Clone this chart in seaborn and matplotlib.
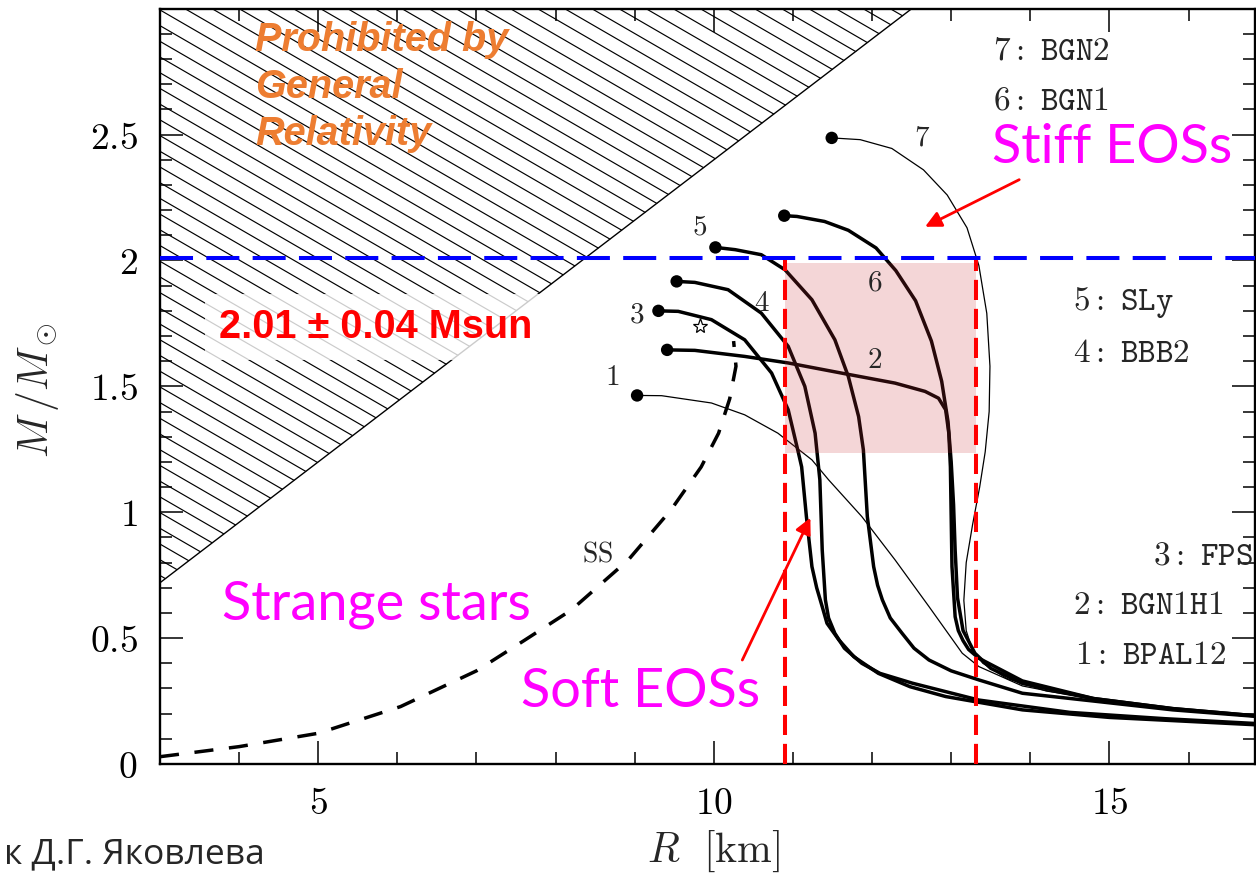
import numpy as np, pandas as pd
import matplotlib; matplotlib.use('Agg')
import matplotlib.pyplot as plt
import seaborn as sns
from matplotlib.patches import Polygon, Rectangle
from matplotlib.collections import LineCollection
from matplotlib.ticker import MultipleLocator, FuncFormatter

sns.set_theme(style='ticks')
plt.rcParams['font.family'] = ['DejaVu Sans']
plt.rcParams['mathtext.fontset'] = 'cm'

# --- M(R) curves (R in km, M in Msun) ---
R1 = [9.03, 9.34, 9.97, 10.39, 10.81, 11.24, 11.45, 11.87, 12.29, 12.72, 13.14, 13.35, 13.9, 14.8, 15.8, 16.9]
M1 = [1.464, 1.463, 1.434, 1.387, 1.314, 1.208, 1.129, 0.983, 0.811, 0.625, 0.44, 0.387, 0.31, 0.255, 0.215, 0.19]
R2 = [9.41, 9.76, 10.39, 10.94, 11.66, 12.29, 12.67, 12.84, 12.93, 12.97, 12.99, 13.01, 13.05, 13.09, 13.15, 13.22, 13.35, 13.9, 14.8, 15.8, 16.9]
M2 = [1.645, 1.643, 1.619, 1.593, 1.55, 1.513, 1.48, 1.453, 1.407, 1.314, 1.18, 0.784, 0.585, 0.53, 0.49, 0.455, 0.42, 0.33, 0.26, 0.22, 0.19]
R3 = [9.30, 9.55, 9.97, 10.39, 10.73, 10.94, 11.07, 11.11, 11.17, 11.24, 11.30, 11.37, 11.43, 11.58, 11.77, 12.08, 12.48, 12.93, 13.9, 15.0, 16.9]
M3 = [1.80, 1.798, 1.765, 1.685, 1.553, 1.407, 1.235, 1.18, 0.983, 0.784, 0.70, 0.625, 0.559, 0.493, 0.426, 0.36, 0.307, 0.268, 0.215, 0.185, 0.155]
R4 = [9.53, 9.76, 10.18, 10.6, 10.94, 11.15, 11.28, 11.34, 11.37, 11.41, 11.45, 11.53, 11.65, 11.87, 12.1, 12.51, 13.35, 14.5, 15.7, 16.9]
M4 = [1.917, 1.913, 1.884, 1.791, 1.659, 1.5, 1.314, 1.129, 0.85, 0.652, 0.58, 0.519, 0.46, 0.40, 0.36, 0.321, 0.254, 0.205, 0.18, 0.16]
R5 = [10.02, 10.27, 10.6, 10.9, 11.24, 11.53, 11.70, 11.83, 11.89, 11.94, 12.02, 12.07, 12.13, 12.23, 12.38, 12.53, 12.72, 13.0, 13.35, 13.9, 14.8, 15.8, 16.9]
M5 = [2.052, 2.043, 2.023, 1.963, 1.844, 1.685, 1.539, 1.38, 1.248, 0.983, 0.784, 0.71, 0.652, 0.58, 0.519, 0.46, 0.413, 0.37, 0.334, 0.281, 0.25, 0.215, 0.188]
R6 = [10.89, 11.05, 11.4, 11.7, 12.05, 12.3, 12.55, 12.75, 12.88, 12.96, 13.0, 13.03, 13.05, 13.08, 13.15, 13.3, 13.5, 13.9, 14.8, 15.8, 16.9]
M6 = [2.178, 2.175, 2.155, 2.12, 2.05, 1.96, 1.84, 1.68, 1.52, 1.36, 1.2, 1.03, 0.85, 0.66, 0.53, 0.44, 0.38, 0.32, 0.26, 0.22, 0.19]
R7 = [11.49, 11.85, 12.25, 12.65, 12.95, 13.2, 13.35, 13.45, 13.49, 13.48, 13.43, 13.36, 13.27, 13.19, 13.16, 13.19, 13.27, 13.4, 13.7, 14.2, 15.0, 16.0, 16.9]
M7 = [2.487, 2.48, 2.445, 2.36, 2.26, 2.13, 1.98, 1.79, 1.58, 1.40, 1.24, 1.10, 0.95, 0.80, 0.65, 0.53, 0.45, 0.40, 0.34, 0.29, 0.25, 0.215, 0.19]
R_SS = [3.0, 4.0, 5.0, 6.04, 7.0, 7.6, 8.2, 8.92, 9.46, 9.84, 10.06, 10.2, 10.28, 10.25]
M_SS = [0.029, 0.069, 0.122, 0.228, 0.37, 0.49, 0.612, 0.811, 1.01, 1.18, 1.314, 1.45, 1.58, 1.68]

EOS_IDS = ['1', '2', '3', '4', '5', '6', '7']
EOS_NAMES = ['BPAL12', 'BGN1H1', 'FPS', 'BBB2', 'SLy', 'BGN1', 'BGN2']
THICK = [False, True, True, True, True, True, False]

# curve number labels (position R, M)
NUM_R = [8.72, 12.03, 9.02, 10.61, 9.82, 12.03, 12.63]
NUM_M = [1.539, 1.606, 1.785, 1.831, 2.136, 1.913, 2.487]
# right-hand name list (left edge R, centre M)
NAME_R = [14.56, 14.54, 15.55, 14.54, 14.54, 13.53, 13.53]
NAME_M = [0.433, 0.632, 0.831, 1.634, 1.832, 2.639, 2.838]

STAR = (9.82, 1.738)
GR_SLOPE = 0.24          # M < 0.24 R  (GR limit)
M_OBS = 2.01             # observed maximum mass
BOX_R = [10.9, 13.31]    # radius band
BOX_M = [1.235, 1.99]

curves_R = [R1, R2, R3, R4, R5, R6, R7]
curves_M = [M1, M2, M3, M4, M5, M6, M7]
df = pd.concat([pd.DataFrame({'R': r, 'M': m, 'eos': k, 'order': range(len(r))})
                for r, m, k in zip(curves_R, curves_M, EOS_IDS)], ignore_index=True)
starts = df[df['order'] == 0]

fig = plt.figure(figsize=(12.56, 8.75), dpi=100)
ax = fig.add_axes([160/1256, 111/875, 1095/1256, 755/875])
ax.set_xlim(3, 16.84)
ax.set_ylim(0, 2.999)

# hatched GR-forbidden region (diagonal lines clipped to the triangle)
r_top = 3.0 / GR_SLOPE
tri = Polygon([[3, 3 * GR_SLOPE], [3, 3.0], [r_top, 3.0]], closed=True,
              fill=False, edgecolor='none', transform=ax.transData)
ax.add_patch(tri)
c0 = np.arange(0.0, 5.0, 0.0624)
segs = [[(3, c), (16, c - 0.182 * 13)] for c in c0]
lc = LineCollection(segs, colors='black', linewidths=0.85, zorder=1)
ax.add_collection(lc)
lc.set_clip_path(tri)
ax.plot([3, r_top], [3 * GR_SLOPE, 3.0], color='black', lw=1.0, zorder=2)

ax.text(4.20, 2.69, 'Prohibited by\nGeneral\nRelativity', color='#ED7D31', fontsize=28.5,
        family='Liberation Sans', weight='bold', style='italic', ha='left', va='center',
        linespacing=1.3, zorder=3)
ax.text(5.72, 1.737, '2.01 ± 0.04 Msun', color='red', fontsize=28.5, family='Liberation Sans',
        weight='bold', ha='center', va='center', zorder=3,
        bbox=dict(boxstyle='square,pad=0.35', fc='white', ec='none', alpha=0.8))

# M-R curves
for k, thick in zip(EOS_IDS, THICK):
    sns.lineplot(data=df[df['eos'] == k], x='R', y='M', sort=False, estimator=None,
                 color='black', lw=2.5 if thick else 0.9, ax=ax, zorder=4)
sns.scatterplot(data=starts, x='R', y='M', color='black', s=80, edgecolor='none', ax=ax, zorder=5)
sns.lineplot(x=R_SS, y=M_SS, sort=False, estimator=None, color='black', lw=2.5,
             ax=ax, zorder=4).lines[-1].set_dashes((5.5, 4.5))
ax.plot(*STAR, marker='*', ms=11, mfc='white', mec='black', mew=0.9, zorder=5)

for k, r, m in zip(EOS_IDS, NUM_R, NUM_M):
    ax.text(r, m, f'${k}$', fontsize=21, ha='center', va='center', zorder=9)
ax.text(8.53, 0.835, r'$\mathrm{SS}$', fontsize=20, ha='center', va='center', zorder=9)
for k, name, r, m in zip(EOS_IDS, EOS_NAMES, NAME_R, NAME_M):
    ax.text(r, m, r'$\mathtt{' + k + r':\ ' + name + '}$', fontsize=24, ha='left', va='center', zorder=9)

# observational constraints
ax.add_patch(Rectangle((BOX_R[0], BOX_M[0]), BOX_R[1] - BOX_R[0], BOX_M[1] - BOX_M[0],
                       facecolor='#C83237', alpha=0.2, edgecolor='none', zorder=6))
for r in BOX_R:
    ax.plot([r, r], [0, 2.0], color='red', lw=2.9, dashes=(5, 2.2), zorder=7)
ax.axhline(M_OBS, color='#0000FF', lw=2.9, dashes=(8.2, 3.3), zorder=8)

magenta = '#FF00FF'
mfont = ['Lato', 'Open Sans']
ax.text(5.74, 0.632, 'Strange stars', color=magenta, fontsize=39, family=mfont,
        ha='center', va='center', zorder=9)
ax.text(9.07, 0.286, 'Soft EOSs', color=magenta, fontsize=39, family=mfont,
        ha='center', va='center', zorder=9)
ax.text(15.04, 2.448, 'Stiff EOSs', color=magenta, fontsize=39, family=mfont,
        ha='center', va='center', zorder=9)
arrow = dict(arrowstyle='-|>', color='red', lw=2.0, mutation_scale=24, shrinkA=0, shrinkB=0)
ax.annotate('', xy=(12.67, 2.134), xytext=(13.86, 2.321), arrowprops=arrow, zorder=9)
ax.annotate('', xy=(11.22, 0.978), xytext=(10.36, 0.413), arrowprops=arrow, zorder=9)

# axes styling
for s in ax.spines.values():
    s.set_linewidth(1.7)
    s.set_color('black')
ax.xaxis.set_major_locator(MultipleLocator(5))
ax.xaxis.set_minor_locator(MultipleLocator(1))
ax.yaxis.set_major_locator(MultipleLocator(0.5))
ax.yaxis.set_minor_locator(MultipleLocator(0.1))
fmt = FuncFormatter(lambda v, p: f'${v:g}$')
ax.xaxis.set_major_formatter(fmt)
ax.yaxis.set_major_formatter(fmt)
ax.tick_params(which='both', direction='in', top=True, right=True, colors='black', width=1.1)
ax.tick_params(which='major', length=16.5, labelsize=27, pad=16)
ax.tick_params(which='minor', length=8.6)
ax.set_xlabel(r'$R\ \ [\mathrm{km}]$', fontsize=30)
ax.set_ylabel(r'$M\,/M_\odot$', fontsize=30)
ax.xaxis.set_label_coords(0.505, -0.085)
ax.yaxis.label.set_va('center')
ax.yaxis.set_label_coords(-0.112, 0.495)

fig.text(0.003, 0.004, 'к Д.Г. Яковлева', fontsize=25.5, family='Open Sans', ha='left', va='bottom')

fig.savefig('out.png', dpi=100)
